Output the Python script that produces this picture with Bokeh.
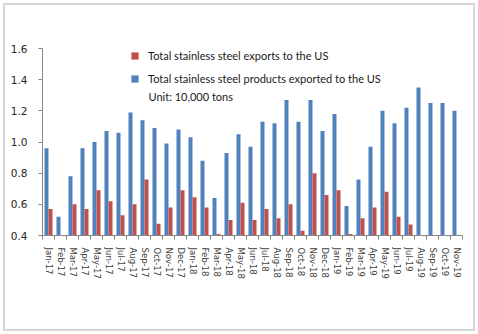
from bokeh.plotting import figure
from bokeh.models import (ColumnDataSource, Range1d, FixedTicker, Legend, LegendItem,
                          Label, NumeralTickFormatter)
from bokeh.embed import file_html
from bokeh.resources import INLINE

months = ["Jan-17", "Feb-17", "Mar-17", "Apr-17", "May-17", "Jun-17", "Jul-17", "Aug-17",
          "Sep-17", "Oct-17", "Nov-17", "Dec-17", "Jan-18", "Feb-18", "Mar-18", "Apr-18",
          "May-18", "Jun-18", "Jul-18", "Aug-18", "Sep-18", "Oct-18", "Nov-18", "Dec-18",
          "Jan-19", "Feb-19", "Mar-19", "Apr-19", "May-19", "Jun-19", "Jul-19", "Aug-19",
          "Sep-19", "Oct-19", "Nov-19"]

products = [0.96, 0.52, 0.78, 0.96, 1.00, 1.07, 1.06, 1.19, 1.14, 1.09, 0.99, 1.08,
            1.03, 0.88, 0.64, 0.93, 1.05, 0.97, 1.13, 1.12, 1.27, 1.13, 1.27, 1.07,
            1.18, 0.59, 0.76, 0.97, 1.20, 1.12, 1.22, 1.35, 1.25, 1.25, 1.20]

exports = [0.57, 0.39, 0.60, 0.57, 0.69, 0.62, 0.53, 0.60, 0.76, 0.475, 0.58, 0.69,
           0.645, 0.58, 0.41, 0.50, 0.61, 0.50, 0.57, 0.51, 0.60, 0.43, 0.80, 0.66,
           0.69, 0.41, 0.51, 0.58, 0.68, 0.52, 0.47, 0.39, 0.40, 0.39, 0.39]

y_ticks = [0.4, 0.6, 0.8, 1.0, 1.2, 1.4, 1.6]

series_names = ["Total stainless steel exports to the US",
                "Total stainless steel products exported to the US"]
unit_text = "Unit: 10,000 tons"

BLUE = "#4F81BD"
RED = "#C0504D"

n = len(months)
idx = list(range(n))
src = ColumnDataSource(dict(
    xb=[i - 1/6 for i in idx],
    xr=[i + 1/6 for i in idx],
    products=products,
    exports=exports,
))

p = figure(width=478, height=334, output_backend="svg", toolbar_location=None,
           x_range=Range1d(-0.5, n - 0.5), y_range=Range1d(y_ticks[0], y_ticks[-1]),
           min_border_left=42, min_border_right=16, min_border_top=48, min_border_bottom=99)

p.outline_line_color = None
p.xgrid.visible = False
p.ygrid.visible = False
p.background_fill_color = "white"
p.border_fill_color = "white"
p.border_fill_alpha = 0

rb = p.vbar(x="xb", top="products", bottom=y_ticks[0], width=1/3, source=src,
            fill_color=BLUE, line_color=None)
rr = p.vbar(x="xr", top="exports", bottom=y_ticks[0], width=1/3, source=src,
            fill_color=RED, line_color=None)

# x axis
xa = p.xaxis[0]
xa.ticker = FixedTicker(ticks=idx, minor_ticks=[i - 0.5 for i in range(n + 1)])
xa.major_label_overrides = {i: m for i, m in enumerate(months)}
xa.major_label_orientation = "vertical"
xa.major_tick_out = 0
xa.major_tick_in = 0
xa.minor_tick_out = 4
xa.minor_tick_in = 0
xa.minor_tick_line_color = "#868686"
xa.axis_line_color = "#868686"
xa.major_label_text_font = "DejaVu Sans"
xa.major_label_text_font_size = "8.5px"
xa.major_label_text_color = "#404040"
xa.major_label_standoff = 8

# y axis
ya = p.yaxis[0]
ya.ticker = FixedTicker(ticks=y_ticks)
ya.formatter = NumeralTickFormatter(format="0.0")
ya.major_tick_out = 4
ya.major_tick_in = 0
ya.minor_tick_out = 0
ya.minor_tick_in = 0
ya.major_tick_line_color = "#868686"
ya.axis_line_color = "#868686"
ya.major_label_text_font = "DejaVu Sans"
ya.major_label_text_font_size = "10.5px"
ya.major_label_text_color = "#262626"
ya.major_label_standoff = 11

legend = Legend(items=[LegendItem(label=series_names[0], renderers=[rr]),
                       LegendItem(label=series_names[1], renderers=[rb])],
                location=(88, 149.5), orientation="vertical",
                padding=0, margin=0, spacing=9,
                glyph_width=9, glyph_height=9, label_height=14, label_standoff=9,
                label_text_font="Lato", label_text_font_size="11px",
                label_text_color="#1a1a1a",
                border_line_color=None, background_fill_alpha=0)
p.add_layout(legend)

p.add_layout(Label(x=106, y=139, x_units="screen", y_units="screen", text=unit_text,
                   text_font="Lato", text_font_size="11px", text_color="#1a1a1a",
                   text_baseline="middle"))

p.styles = {"background": "white",
            "box-shadow": "inset 0 0 0 3px white, inset 0 0 0 5px #d6d6d6"}

open("out.html", "w").write(file_html(p, INLINE))
